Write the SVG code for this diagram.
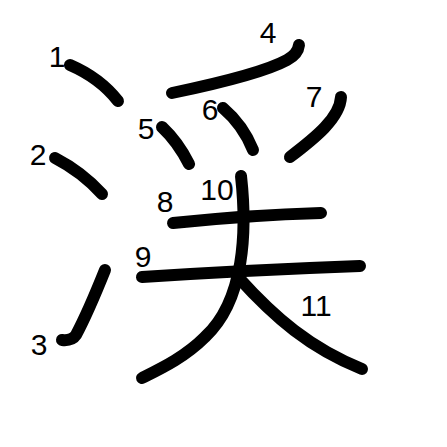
<svg xmlns="http://www.w3.org/2000/svg" width="447" height="447" viewBox="0 0 447 447">
<style>
.s{fill:none;stroke:#000;stroke-width:12;stroke-linecap:round;stroke-linejoin:round}
.n{font-family:"Liberation Sans",Arial,sans-serif;font-size:30px;fill:#000;text-anchor:middle}
</style>
<rect width="447" height="447" fill="#fff"/>
<g id="strokes">
<path id="s1" class="s" d="M70,65 Q100,78 118,101"/>
<path id="s2" class="s" d="M55,158 Q82,172 102,194"/>
<path id="s3" class="s" d="M105,270 C95,295 85,318 76,335 Q72,341 62,340"/>
<path id="s4" class="s" d="M172,93 C220,83 265,72 287,60 Q298,54 299,45"/>
<path id="s5" class="s" d="M162,127 Q178,142 189,164"/>
<path id="s6" class="s" d="M223,108 Q243,125 253,150"/>
<path id="s7" class="s" d="M341,97 C340,118 315,138 290,157"/>
<path id="s8" class="s" d="M173,223 Q250,215 321,213"/>
<path id="s9" class="s" d="M142,277 Q250,270 360,266"/>
<path id="s10" class="s" d="M241,176 C247,230 245,300 205,337 C185,357 162,368 142,378"/>
<path id="s11" class="s" d="M238,277 C275,318 310,348 362,369"/>
</g>
<g id="labels">
<text class="n" x="57" y="67">1</text>
<text class="n" x="38" y="165">2</text>
<text class="n" x="39" y="355">3</text>
<text class="n" x="268" y="43">4</text>
<text class="n" x="146" y="139">5</text>
<text class="n" x="210" y="120">6</text>
<text class="n" x="314" y="107">7</text>
<text class="n" x="165" y="212">8</text>
<text class="n" x="143" y="267">9</text>
<text class="n" x="217" y="200">10</text>
<text class="n" x="316" y="316">11</text>
</g>
</svg>
